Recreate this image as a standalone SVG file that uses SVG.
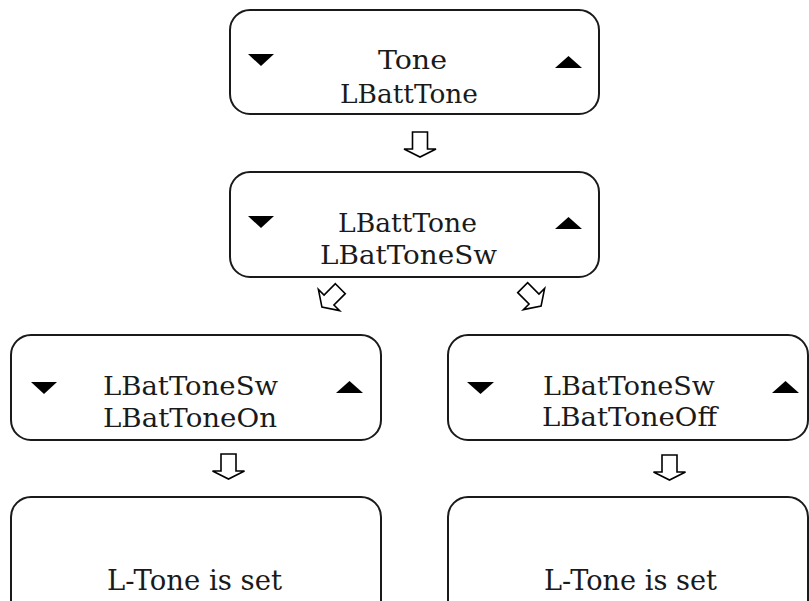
<svg xmlns="http://www.w3.org/2000/svg" width="809" height="601" viewBox="0 0 809 601">
<style>
.box{fill:#fff;stroke:#1a1a1a;stroke-width:2}
.t{font-family:"DejaVu Serif",serif;font-size:26px;fill:#1a1a1a}
.b{font-size:28px}
.tri{fill:#000}
.arr{fill:#fff;stroke:#000;stroke-width:1.6;stroke-linejoin:miter}
</style>
<defs>
<polygon id="dn" class="arr" points="-7.5,-17 7.5,-17 7.5,0 16,0 0,8 -16,0 -7.5,0"/>
<polygon id="dg" class="arr" points="-7,-16 7,-16 7,0 15,0 0,10 -15,0 -7,0"/>
</defs>
<rect width="809" height="601" fill="#fff"/>
<g id="connectors">
<use href="#dn" x="420" y="149"/>
<use href="#dg" transform="translate(329,300) rotate(45)"/>
<use href="#dg" transform="translate(534,299) rotate(-45)"/>
<use href="#dn" x="228.5" y="471"/>
<use href="#dn" x="669.5" y="472"/>
</g>
<g id="node1">
<rect class="box" x="230" y="10" width="369" height="104" rx="20"/>
<polygon class="tri" points="248,54 274,54 261,66"/>
<polygon class="tri" points="555,68 582,68 568.5,56"/>
<text class="t" x="378" y="69" textLength="69" lengthAdjust="spacingAndGlyphs">Tone</text>
<text class="t" x="340" y="103" textLength="138" lengthAdjust="spacingAndGlyphs">LBattTone</text>
</g>
<g id="node2">
<rect class="box" x="230" y="172" width="369" height="105" rx="20"/>
<polygon class="tri" points="248,216 274,216 261,228"/>
<polygon class="tri" points="555,229 582,229 568.5,217"/>
<text class="t" x="338" y="232" textLength="139" lengthAdjust="spacingAndGlyphs">LBattTone</text>
<text class="t" x="320" y="264" textLength="177" lengthAdjust="spacingAndGlyphs">LBatToneSw</text>
</g>
<g id="node3">
<rect class="box" x="11" y="335" width="370" height="105" rx="20"/>
<polygon class="tri" points="31,382 57,382 44,394"/>
<polygon class="tri" points="336,393 363,393 349.5,381"/>
<text class="t" x="103" y="395" textLength="175" lengthAdjust="spacingAndGlyphs">LBatToneSw</text>
<text class="t" x="103" y="427" textLength="174" lengthAdjust="spacingAndGlyphs">LBatToneOn</text>
</g>
<g id="node4">
<rect class="box" x="448" y="335" width="360" height="105" rx="20"/>
<polygon class="tri" points="467,382 494,382 480.5,394"/>
<polygon class="tri" points="772,393 799,393 785.5,381"/>
<text class="t" x="543" y="395" textLength="172" lengthAdjust="spacingAndGlyphs">LBatToneSw</text>
<text class="t" x="542" y="426" textLength="175" lengthAdjust="spacingAndGlyphs">LBatToneOff</text>
</g>
<g id="node5">
<rect class="box" x="11" y="497" width="370" height="130" rx="20"/>
<text class="t b" x="107" y="590" textLength="175" lengthAdjust="spacingAndGlyphs">L-Tone is set</text>
</g>
<g id="node6">
<rect class="box" x="448" y="497" width="360" height="130" rx="20"/>
<text class="t b" x="544" y="590" textLength="173" lengthAdjust="spacingAndGlyphs">L-Tone is set</text>
</g>
</svg>
